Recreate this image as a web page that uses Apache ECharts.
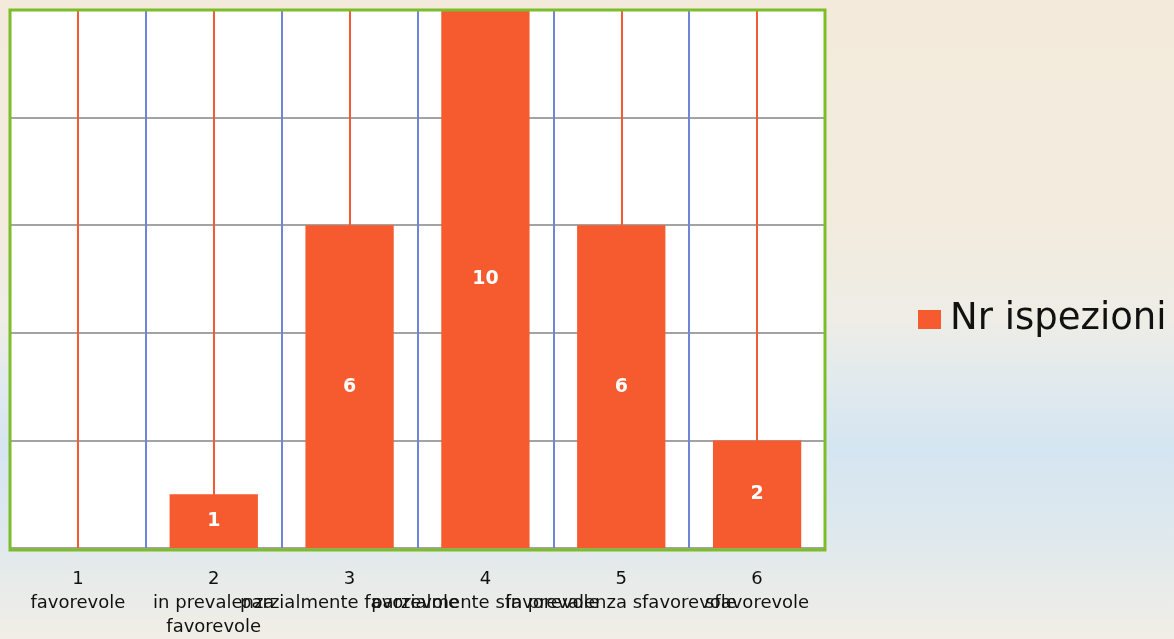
<!DOCTYPE html>
<html>
<head>
<meta charset="utf-8">
<script src="https://cdn.jsdelivr.net/npm/echarts@6/dist/echarts.min.js"></script>
<style>
html,body{margin:0;padding:0;width:1174px;height:639px;overflow:hidden;
background:linear-gradient(180deg,#f3eadb 0%,#f2ebde 35%,#eeede6 50%,#e1eaee 60%,#d5e5f1 70%,#dde8ee 82%,#f1eee6 100%);}
#c{width:1174px;height:639px;}
</style>
</head>
<body>
<div id="c"></div>
<script>
const categories = ["1\nfavorevole", "2\nin prevalenza\nfavorevole", "3\nparzialmente favorevole", "4\nparzialmente sfavorevole", "5\nin prevalenza sfavorevole", "6\nsfavorevole"];
const seriesName = "Nr ispezioni";
const values = [0, 1, 6, 10, 6, 2];

const chart = echarts.init(document.getElementById('c'));
chart.setOption({
  backgroundColor: 'transparent',
  animation: false,
  textStyle: {fontFamily: 'DejaVu Sans'},
  grid: {left: 10, top: 10, right: 349, bottom: 89, show: true, backgroundColor: '#ffffff', borderWidth: 0, z: 0},
  graphic: [{
    type: 'rect', z: 100, silent: true,
    shape: {x: 10, y: 10, width: 815, height: 540},
    style: {fill: 'none', stroke: '#7dbd2a', lineWidth: 3}
  }],
  legend: {
    data: [seriesName], left: 913, top: 296, itemWidth: 23, itemHeight: 19, icon: 'rect',
    textStyle: {fontSize: 37, color: '#111', fontFamily: 'DejaVu Sans', padding: [0, 0, 0, 4]}
  },
  xAxis: {
    type: 'category', data: categories,
    axisLine: {show: false}, axisTick: {show: false},
    splitLine: {show: true, lineStyle: {color: '#6f86d8', width: 2}},
    axisLabel: {color: '#111', fontSize: 18, lineHeight: 24, margin: 19, interval: 0, fontFamily: 'DejaVu Sans'}
  },
  yAxis: {
    type: 'value', min: 0, max: 10, interval: 2,
    axisLabel: {show: false}, axisLine: {show: false}, axisTick: {show: false},
    splitLine: {lineStyle: {color: '#a3a3a3', width: 2}}
  },
  series: [
    {
      type: 'line', data: [], z: 1, silent: true,
      markLine: {
        z: 1, symbol: 'none', silent: true, animation: false,
        label: {show: false},
        lineStyle: {color: '#f25c34', width: 2, type: 'solid'},
        data: categories.map(c => ({xAxis: c}))
      }
    },
    {
      name: seriesName, type: 'bar', data: values, z: 3, barWidth: '65%',
      itemStyle: {color: '#f55b2f'},
      label: {show: true, position: 'inside', color: '#fff', fontWeight: 'bold', fontSize: 19,
        formatter: p => p.value > 0 ? p.value : ''}
    }
  ]
});
</script>
</body>
</html>
